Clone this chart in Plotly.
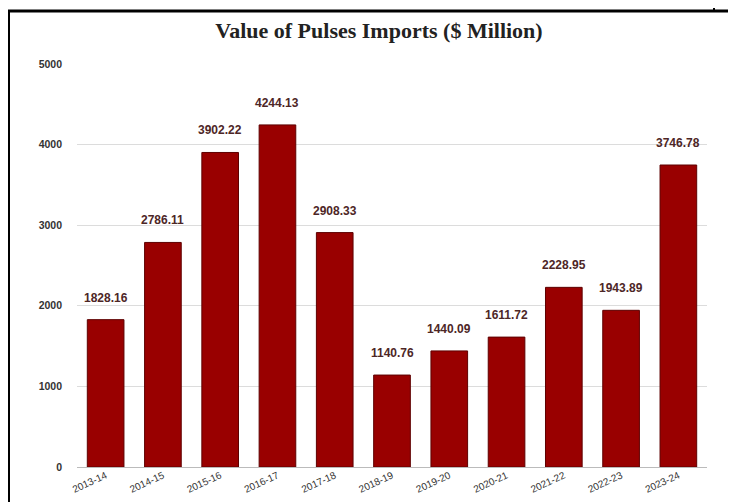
import plotly.graph_objects as go

years = ["2013-14", "2014-15", "2015-16", "2016-17", "2017-18", "2018-19",
         "2019-20", "2020-21", "2021-22", "2022-23", "2023-24"]
values = [1828.16, 2786.11, 3902.22, 4244.13, 2908.33, 1140.76,
          1440.09, 1611.72, 2228.95, 1943.89, 3746.78]
labels = ["1828.16", "2786.11", "3902.22", "4244.13", "2908.33", "1140.76",
          "1440.09", "1611.72", "2228.95", "1943.89", "3746.78"]
yticks = [0, 1000, 2000, 3000, 4000, 5000]

# page has an 8px body margin; figure coordinates = page coordinates - 8
OFF = 8
W, H = 736 - OFF, 502 - OFF
ml, mr, mt, mb = 77 - OFF, 29, 64 - OFF, 35

fig = go.Figure(go.Bar(
    x=years, y=values,
    marker=dict(color="#990000", line=dict(color="#5e0000", width=1)),
    width=0.64,
))

for xv, yv, t in zip(years, values, labels):
    fig.add_annotation(x=xv, y=yv, text="<b>" + t + "</b>", showarrow=False,
                       yshift=22, font=dict(family="Arial", size=12, color="#4d2626"))

def px(x):
    return (x - OFF - ml) / (W - ml - mr)

def py(y):
    return 1 - (y - OFF - mt) / (H - mt - mb)

shapes = [
    dict(type="line", xref="paper", yref="paper", x0=px(8.5), x1=px(8.5), y0=py(11), y1=py(502), line=dict(color="black", width=3)),
    dict(type="line", xref="paper", yref="paper", x0=px(7), x1=px(736), y0=py(11), y1=py(11), line=dict(color="black", width=3)),
    dict(type="line", xref="paper", yref="paper", x0=px(714), x1=px(714), y0=py(8), y1=py(11), line=dict(color="black", width=2)),
]

fig.update_layout(
    width=W, height=H,
    margin=dict(l=ml, r=mr, t=mt, b=mb),
    paper_bgcolor="white", plot_bgcolor="white",
    shapes=shapes,
    showlegend=False,
    title=dict(text="<b>Value of Pulses Imports ($ Million)</b>", x=px(379), xanchor="center",
               xref="paper",
               y=1 - (30 - OFF) / H, yanchor="middle",
               font=dict(family="Liberation Serif", size=22, color="#222222")),
    xaxis=dict(tickangle=-25, tickfont=dict(family="Arial", size=10, color="#333333"),
               showgrid=False, ticks="", showline=False, automargin=False),
    yaxis=dict(range=[0, 5000], tickvals=yticks, ticktext=["<b>%d</b>" % v for v in yticks],
               tickfont=dict(family="Arial", size=10.5, color="#333333"),
               gridcolor="#dcdcdc", zeroline=True, zerolinecolor="#bbbbbb", zerolinewidth=1,
               ticklabelstandoff=14, automargin=False),
)

fig.write_html("out.html")
